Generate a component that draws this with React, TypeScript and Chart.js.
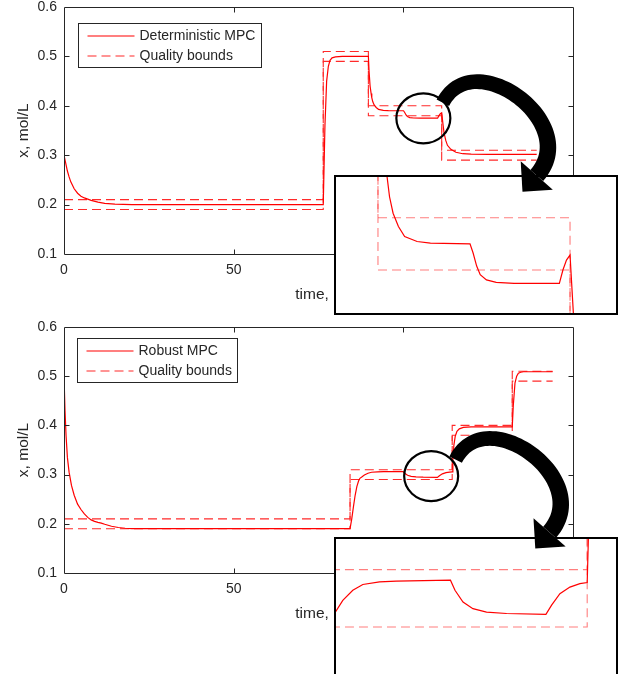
import React, { useEffect, useRef } from 'react';
import { Chart, registerables } from 'chart.js';

Chart.register(...registerables);

const FONT = '"Liberation Sans", Arial, Helvetica, sans-serif';
const TEXT = '#262626';

// ---------- Top panel: Deterministic MPC ----------
const detLabel = 'Deterministic MPC';
const detTimes = [0, 0.5, 1, 1.5, 2, 3, 4, 5, 6, 7, 8, 10, 12, 15, 20, 30, 76.4, 76.9, 77.4, 77.9, 78.4, 79, 80, 82, 89.7, 89.9, 90.2, 90.5, 90.7, 91.0, 91.4, 92.0, 92.7, 94.1, 95.6, 100.05, 100.4, 100.8, 101.2, 101.9, 103.0, 105.0, 110.1, 110.5, 110.9, 111.3, 111.7, 112.0, 112.5, 113.0, 114.0, 115.5, 117.5, 120, 125, 139.3];
const detValues = [0.300, 0.284, 0.268, 0.256, 0.246, 0.232, 0.223, 0.217, 0.2135, 0.211, 0.2085, 0.205, 0.2025, 0.201, 0.2, 0.2, 0.2, 0.36, 0.45, 0.48, 0.492, 0.497, 0.499, 0.5, 0.5, 0.47, 0.44, 0.425, 0.4163, 0.408, 0.4017, 0.3966, 0.3928, 0.3909, 0.3903, 0.39, 0.3865, 0.3815, 0.3782, 0.3762, 0.3753, 0.3749, 0.3749, 0.38, 0.3838, 0.3857, 0.362, 0.345, 0.33, 0.32, 0.312, 0.306, 0.303, 0.302, 0.3015, 0.3015];
const detBoundTimes = [0, 76.4, 89.7, 111.3, 139.3];
const detUpper = [0.21, 0.51, 0.40, 0.31, 0.31];
const detLower = [0.19, 0.49, 0.38, 0.29, 0.29];
const detZoomT = [84.98, 116.47];
const detZoomX = [0.36356, 0.41556];
const detCircle = [105.9, 0.3747];

// ---------- Bottom panel: Robust MPC ----------
const robLabel = 'Robust MPC';
const robTimes = [0, 0.3, 0.6, 1, 1.5, 2.2, 3, 4, 5, 6, 7, 8, 9, 10, 11, 12, 13, 14, 16, 18, 20, 25, 84.3, 84.8, 85.3, 85.8, 86.3, 86.8, 87.2, 87.74, 88.52, 89.58, 90.64, 92.41, 94.18, 99.92, 100.4, 101.25, 102.3, 103.74, 105.86, 110.03, 110.63, 111.51, 112.57, 113.63, 114.4, 114.6, 114.9, 115.3, 115.8, 116.5, 117.7, 120, 132.1, 132.4, 132.9, 133.4, 133.9, 134.6, 135.4, 144];
const robValues = [0.5, 0.43, 0.38, 0.335, 0.305, 0.278, 0.258, 0.24, 0.229, 0.22, 0.213, 0.208, 0.205, 0.203, 0.2015, 0.199, 0.197, 0.195, 0.1925, 0.191, 0.1903, 0.19, 0.19, 0.21, 0.235, 0.258, 0.2754, 0.287, 0.2925, 0.2952, 0.2993, 0.3028, 0.3048, 0.3057, 0.306, 0.3063, 0.3028, 0.2987, 0.2964, 0.2952, 0.2947, 0.2944, 0.2976, 0.3016, 0.3039, 0.3051, 0.3055, 0.33, 0.36, 0.378, 0.388, 0.393, 0.396, 0.397, 0.397, 0.44, 0.486, 0.5, 0.506, 0.508, 0.509, 0.509];
const robBoundTimes = [0, 84.3, 114.4, 132.1, 144];
const robUpper = [0.21, 0.31, 0.40, 0.51, 0.51];
const robLower = [0.19, 0.29, 0.38, 0.49, 0.49];
const robZoomT = [87.8, 117.45];
const robZoomX = [0.27328, 0.32066];
const robCircle = [108.2, 0.297];

// ---------- Axes ----------
const xRange = [0, 150];
const xStep = 50;
const yRange = [0.1, 0.6];
const yStep = 0.1;
const xTitle = 'time, h';
const yTitle = 'x, mol/L';
const boundsLabel = 'Quality bounds';

// arrow geometry (relative to circle centre)
const ARROW_CTRL = [[19.5, -15.5], [50, -75], [159.6, 4.7], [113.4, 57.2]];

const pts = (ts: number[], vs: number[]) => ts.map((t, i) => ({ x: t, y: vs[i] }));

function makeDatasets(label: string, times: number[], values: number[], bt: number[], up: number[], lo: number[], boundColor: string, lw: number) {
  return [
    { label, data: pts(times, values), borderColor: '#ff0000', backgroundColor: '#ff0000', borderWidth: lw, pointRadius: 0, tension: 0, fill: false },
    { label: boundsLabel, data: pts(bt, up), borderColor: boundColor, backgroundColor: boundColor, borderWidth: 1.1, borderDash: [9, 5], stepped: 'before', pointRadius: 0, fill: false },
    { label: '', data: pts(bt, lo), borderColor: boundColor, backgroundColor: boundColor, borderWidth: 1.1, borderDash: [9, 5], stepped: 'before', pointRadius: 0, fill: false },
  ];
}

const boxPlugin = {
  id: 'matlabBox',
  afterDraw(chart: any, _args: any, opts: any) {
    const { ctx, chartArea: a } = chart;
    const xs = chart.scales.x;
    const ys = chart.scales.y;
    ctx.save();
    ctx.strokeStyle = TEXT;
    ctx.lineWidth = 1;
    ctx.setLineDash([]);
    const L = Math.round(a.left) + 0.5, R = Math.round(a.right) + 0.5, T = Math.round(a.top) + 0.5, B = Math.round(a.bottom) + 0.5;
    ctx.beginPath();
    ctx.rect(L, T, R - L, B - T);
    ctx.stroke();
    const tl = 5;
    ctx.beginPath();
    xs.ticks.forEach((t: any) => {
      const p = Math.round(xs.getPixelForValue(t.value)) + 0.5;
      if (p <= L + 1 || p >= R - 1) return;
      ctx.moveTo(p, B); ctx.lineTo(p, B - tl);
      ctx.moveTo(p, T); ctx.lineTo(p, T + tl);
    });
    ys.ticks.forEach((t: any) => {
      const p = Math.round(ys.getPixelForValue(t.value)) + 0.5;
      if (p <= T + 1 || p >= B - 1) return;
      ctx.moveTo(L, p); ctx.lineTo(L + tl, p);
      ctx.moveTo(R, p); ctx.lineTo(R - tl, p);
    });
    ctx.stroke();

    // legend
    const items = chart.data.datasets.filter((d: any) => d.label);
    ctx.font = `14px ${FONT}`;
    const tw = Math.max(...items.map((d: any) => ctx.measureText(d.label).width));
    const bx = Math.round(a.left + opts.dx) + 0.5;
    const by = Math.round(a.top + opts.dy) + 0.5;
    const bw = Math.round(61 + tw + 6);
    const bh = 44;
    ctx.fillStyle = '#ffffff';
    ctx.fillRect(bx, by, bw, bh);
    ctx.strokeStyle = TEXT;
    ctx.strokeRect(bx, by, bw, bh);
    items.forEach((d: any, i: number) => {
      const yy = Math.round(by + 12 + i * 20);
      ctx.strokeStyle = d.borderColor;
      ctx.lineWidth = d.borderWidth;
      ctx.setLineDash(d.borderDash || []);
      ctx.beginPath();
      ctx.moveTo(bx + 9, yy);
      ctx.lineTo(bx + 56, yy);
      ctx.stroke();
      ctx.setLineDash([]);
      ctx.fillStyle = TEXT;
      ctx.textBaseline = 'middle';
      ctx.textAlign = 'left';
      ctx.fillText(d.label, bx + 61, yy);
    });
    ctx.restore();
  },
};

function mainConfig(datasets: any[], padBottom: number, legend: { dx: number; dy: number }) {
  return {
    type: 'line',
    data: { datasets },
    plugins: [boxPlugin],
    options: {
      animation: false,
      responsive: false,
      maintainAspectRatio: false,
      layout: { padding: { left: 0, top: 7, right: 48, bottom: padBottom } },
      plugins: { legend: { display: false }, tooltip: { enabled: false }, matlabBox: legend },
      scales: {
        x: {
          type: 'linear', min: xRange[0], max: xRange[1],
          grid: { display: false, drawTicks: false }, border: { display: false },
          ticks: { stepSize: xStep, padding: 8, color: TEXT, font: { family: FONT, size: 14 }, maxRotation: 0, autoSkip: false },
          title: { display: true, text: xTitle, color: TEXT, font: { family: FONT, size: 15.5 }, padding: { top: 0, bottom: 16 } },
          afterFit: (s: any) => { s.height = 66; s.paddingLeft = 0; s.paddingRight = 0; },
        },
        y: {
          type: 'linear', min: yRange[0], max: yRange[1],
          grid: { display: false, drawTicks: false }, border: { display: false },
          ticks: { stepSize: yStep, padding: 7, color: TEXT, font: { family: FONT, size: 14 }, callback: (v: any) => Number(v).toFixed(1) },
          title: { display: true, text: yTitle, color: TEXT, font: { family: FONT, size: 15.5 }, padding: { top: 14, bottom: 0 } },
          afterFit: (s: any) => { s.width = 64; s.paddingTop = 0; s.paddingBottom = 0; },
        },
      },
    },
  } as any;
}

function insetConfig(datasets: any[], tr: number[], xr: number[]) {
  return {
    type: 'line',
    data: { datasets },
    options: {
      animation: false,
      responsive: false,
      maintainAspectRatio: false,
      layout: { padding: 0 },
      plugins: { legend: { display: false }, tooltip: { enabled: false } },
      scales: {
        x: { type: 'linear', display: false, min: tr[0], max: tr[1] },
        y: { type: 'linear', display: false, min: xr[0], max: xr[1] },
      },
    },
  } as any;
}

function drawArrow(ctx: CanvasRenderingContext2D, ox: number, oy: number) {
  const P = ARROW_CTRL.map(([x, y]) => [ox + x, oy + y]);
  const [p0, p1, p2, p3] = P;
  const N = 60;
  const Lp: number[][] = [];
  const Rp: number[][] = [];
  for (let i = 0; i <= N; i++) {
    const t = i / N, u = 1 - t;
    const x = u * u * u * p0[0] + 3 * u * u * t * p1[0] + 3 * u * t * t * p2[0] + t * t * t * p3[0];
    const y = u * u * u * p0[1] + 3 * u * u * t * p1[1] + 3 * u * t * t * p2[1] + t * t * t * p3[1];
    const dx = 3 * u * u * (p1[0] - p0[0]) + 6 * u * t * (p2[0] - p1[0]) + 3 * t * t * (p3[0] - p2[0]);
    const dy = 3 * u * u * (p1[1] - p0[1]) + 6 * u * t * (p2[1] - p1[1]) + 3 * t * t * (p3[1] - p2[1]);
    const len = Math.hypot(dx, dy) || 1;
    const nx = -dy / len, ny = dx / len;
    const hw = (14 + 3 * t) / 2;
    Lp.push([x + nx * hw, y + ny * hw]);
    Rp.push([x - nx * hw, y - ny * hw]);
  }
  ctx.fillStyle = '#000';
  ctx.beginPath();
  Lp.forEach((p, i) => (i ? ctx.lineTo(p[0], p[1]) : ctx.moveTo(p[0], p[1])));
  for (let i = Rp.length - 1; i >= 0; i--) ctx.lineTo(Rp[i][0], Rp[i][1]);
  ctx.closePath();
  ctx.fill();
  const hx = p3[0] - p2[0], hy = p3[1] - p2[1];
  const hl = Math.hypot(hx, hy);
  const d = [hx / hl, hy / hl];
  const n = [-d[1], d[0]];
  ctx.beginPath();
  ctx.moveTo(p3[0] + n[0] * 21.4, p3[1] + n[1] * 21.4);
  ctx.lineTo(p3[0] + d[0] * 21.6, p3[1] + d[1] * 21.6);
  ctx.lineTo(p3[0] - n[0] * 21.4, p3[1] - n[1] * 21.4);
  ctx.closePath();
  ctx.fill();
}

export default function App() {
  const topRef = useRef<HTMLCanvasElement>(null);
  const botRef = useRef<HTMLCanvasElement>(null);
  const topInsetRef = useRef<HTMLCanvasElement>(null);
  const botInsetRef = useRef<HTMLCanvasElement>(null);
  const overlayRef = useRef<HTMLCanvasElement>(null);

  useEffect(() => {
    const mainBound = '#ff2a2a';
    const insetBound = 'rgba(255,40,40,0.6)';
    const top = new Chart(topRef.current as any, mainConfig(makeDatasets(detLabel, detTimes, detValues, detBoundTimes, detUpper, detLower, mainBound, 1.2), 0, { dx: 14, dy: 16 }));
    const bot = new Chart(botRef.current as any, mainConfig(makeDatasets(robLabel, robTimes, robValues, robBoundTimes, robUpper, robLower, mainBound, 1.2), 35, { dx: 13, dy: 11 }));
    const ti = new Chart(topInsetRef.current as any, insetConfig(makeDatasets(detLabel, detTimes, detValues, detBoundTimes, detUpper, detLower, insetBound, 1.2), detZoomT, detZoomX));
    const bi = new Chart(botInsetRef.current as any, insetConfig(makeDatasets(robLabel, robTimes, robValues, robBoundTimes, robUpper, robLower, insetBound, 1.2), robZoomT, robZoomX));

    const ov = overlayRef.current as HTMLCanvasElement;
    const ctx = ov.getContext('2d') as CanvasRenderingContext2D;
    ctx.clearRect(0, 0, ov.width, ov.height);
    const marks = [
      { chart: top, offY: 0, c: detCircle, shift: [0, 0] },
      { chart: bot, offY: 320, c: robCircle, shift: [5, -1] },
    ];
    marks.forEach(({ chart, offY, c, shift }) => {
      const cx = (chart as any).scales.x.getPixelForValue(c[0]);
      const cy = (chart as any).scales.y.getPixelForValue(c[1]) + offY;
      ctx.save();
      ctx.strokeStyle = '#000';
      ctx.lineWidth = 2.2;
      ctx.beginPath();
      ctx.ellipse(cx, cy, 27, 25, 0, 0, Math.PI * 2);
      ctx.stroke();
      drawArrow(ctx, cx + shift[0], cy + shift[1]);
      ctx.restore();
    });

    return () => {
      top.destroy(); bot.destroy(); ti.destroy(); bi.destroy();
      ctx.clearRect(0, 0, ov.width, ov.height);
    };
  }, []);

  const insetBox: React.CSSProperties = { position: 'absolute', width: 284, height: 140, border: '2px solid #000', boxSizing: 'border-box', background: '#fff' };

  return (
    <div style={{ position: 'fixed', left: 0, top: 0, width: 621, height: 674, overflow: 'hidden', background: '#fff' }}>
      <canvas ref={topRef} width={621} height={320} style={{ position: 'absolute', left: 0, top: 0 }} />
      <canvas ref={botRef} width={621} height={354} style={{ position: 'absolute', left: 0, top: 320 }} />
      <div style={{ ...insetBox, left: 334, top: 175 }}>
        <canvas ref={topInsetRef} width={280} height={136} style={{ display: 'block' }} />
      </div>
      <div style={{ ...insetBox, left: 334, top: 537 }}>
        <canvas ref={botInsetRef} width={280} height={136} style={{ display: 'block' }} />
      </div>
      <canvas ref={overlayRef} width={621} height={674} style={{ position: 'absolute', left: 0, top: 0, pointerEvents: 'none' }} />
    </div>
  );
}
